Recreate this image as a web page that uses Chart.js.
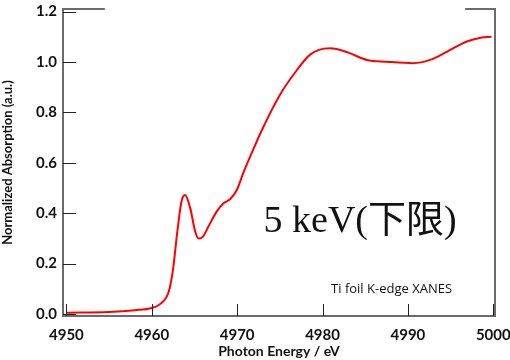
<!DOCTYPE html>
<html>
<head>
<meta charset="utf-8">
<script src="https://cdn.jsdelivr.net/npm/chart.js@4/dist/chart.umd.min.js"></script>
<style>
  body { margin: 0; background: #fff; }
</style>
</head>
<body>
<canvas id="myChart" width="510" height="360"></canvas>
<script>
// energy (eV) and normalized absorption
var energia = [4950, 4955, 4958, 4960, 4961, 4962, 4962.5, 4963, 4963.5, 4963.9, 4964.5, 4965.1, 4965.5,
  4966.0, 4966.6, 4967.6, 4968.4, 4969.2, 4970.0, 4970.7, 4971.7, 4972.9, 4975, 4977.0, 4978.5, 4979.6, 4980.9,
  4983.0, 4985.2, 4987.5, 4990.6, 4992.6, 4994.6, 4996.9, 4998.5, 4999.8];
var absorcao = [0.005, 0.008, 0.015, 0.024, 0.04, 0.09, 0.18, 0.33, 0.45, 0.472, 0.42, 0.325, 0.299,
  0.307, 0.345, 0.406, 0.439, 0.456, 0.495, 0.558, 0.638, 0.73, 0.869, 0.968, 1.028, 1.048, 1.054,
  1.037, 1.008, 1.001, 0.995, 1.008, 1.041, 1.081, 1.096, 1.10];

var xTicks = [4950, 4960, 4970, 4980, 4990, 5000];
var yTicks = [0.0, 0.2, 0.4, 0.6, 0.8, 1.0, 1.2];

var pontos = [];
for (var i = 0; i < energia.length; i++) {
  pontos.push({ x: energia[i], y: absorcao[i] });
}

// inside ticks, partial top frame, and the two text notes
const extras = {
  id: 'extras',
  afterDraw(chart) {
    const ctx = chart.ctx;
    const xs = chart.scales.x;
    const ys = chart.scales.y;
    const a = chart.chartArea;
    ctx.save();
    ctx.strokeStyle = '#222';
    ctx.lineWidth = 1;
    xTicks.forEach(function (v) {
      var px = Math.round(xs.getPixelForValue(v)) + 0.5;
      ctx.beginPath();
      ctx.moveTo(px, a.bottom);
      ctx.lineTo(px, a.bottom - 12);
      ctx.stroke();
    });
    yTicks.forEach(function (v) {
      var py = Math.round(ys.getPixelForValue(v)) + 0.5;
      ctx.beginPath();
      ctx.moveTo(a.left, py);
      ctx.lineTo(a.left + 13, py);
      ctx.stroke();
    });
    // frame
    ctx.strokeStyle = '#6b6b6b';
    ctx.lineWidth = 2;
    ctx.beginPath();
    ctx.moveTo(a.left, a.top);
    ctx.lineTo(xs.getPixelForValue(4954.5), a.top);
    ctx.moveTo(xs.getPixelForValue(4996.7), a.top);
    ctx.lineTo(a.right, a.top);
    ctx.lineTo(a.right, a.bottom);
    ctx.stroke();

    ctx.fillStyle = '#111';
    ctx.textBaseline = 'middle';
    ctx.textAlign = 'center';
    ctx.font = '38px "Liberation Serif", "Noto Sans CJK JP"';
    ctx.fillText('5 keV(下限)', xs.getPixelForValue(4984.4), ys.getPixelForValue(0.365));
    ctx.textAlign = 'left';
    ctx.font = '13px "Open Sans"';
    ctx.fillText('Ti foil K-edge XANES', xs.getPixelForValue(4981.0), ys.getPixelForValue(0.099));
    ctx.restore();
  }
};

const config = {
  type: 'line',
  data: {
    datasets: [{
      label: 'Ti foil',
      data: pontos,
      borderColor: 'rgb(255, 0, 0)',
      borderWidth: 2,
      pointRadius: 0,
      fill: false,
      cubicInterpolationMode: 'monotone'
    }]
  },
  options: {
    responsive: false,
    animation: false,
    layout: { padding: { top: 9, right: 15, left: 0, bottom: 0 } },
    plugins: { legend: { display: false }, tooltip: { enabled: false } },
    scales: {
      x: {
        type: 'linear',
        min: 4949.6,
        max: 5000.2,
        afterBuildTicks: function (s) { s.ticks = xTicks.map(function (v) { return { value: v }; }); },
        afterFit: function (s) { s.height = 44; s.paddingLeft = 0; s.paddingRight = 0; },
        grid: { display: true, drawOnChartArea: false, drawTicks: false },
        border: { display: true, color: '#6b6b6b', width: 2 },
        ticks: {
          color: '#111',
          padding: 10,
          maxRotation: 0,
          callback: function (v) { return String(v); },
          font: { family: 'Lato', size: 15, weight: 'bold' }
        },
        title: {
          display: true,
          text: 'Photon Energy / eV',
          color: '#111',
          padding: { top: -4, bottom: 0 },
          font: { family: 'Lato', size: 14, weight: 'bold' }
        }
      },
      y: {
        min: -0.008,
        max: 1.21,
        afterBuildTicks: function (s) { s.ticks = yTicks.map(function (v) { return { value: v }; }); },
        afterFit: function (s) { s.width = 63; s.paddingTop = 0; s.paddingBottom = 0; },
        grid: { display: true, drawOnChartArea: false, drawTicks: false },
        border: { display: true, color: '#6b6b6b', width: 2 },
        ticks: {
          color: '#111',
          padding: 6,
          callback: function (v) { return v.toFixed(1); },
          font: { family: 'Lato', size: 15, weight: 'bold' }
        },
        title: {
          display: true,
          text: 'Normalized Absorption (a.u.)',
          color: '#111',
          padding: { top: 0, bottom: 2 },
          font: { family: 'Lato', size: 13, weight: 'bold' }
        }
      }
    }
  },
  plugins: [extras]
};

const myChart = new Chart(document.getElementById('myChart').getContext('2d'), config);
</script>
</body>
</html>
